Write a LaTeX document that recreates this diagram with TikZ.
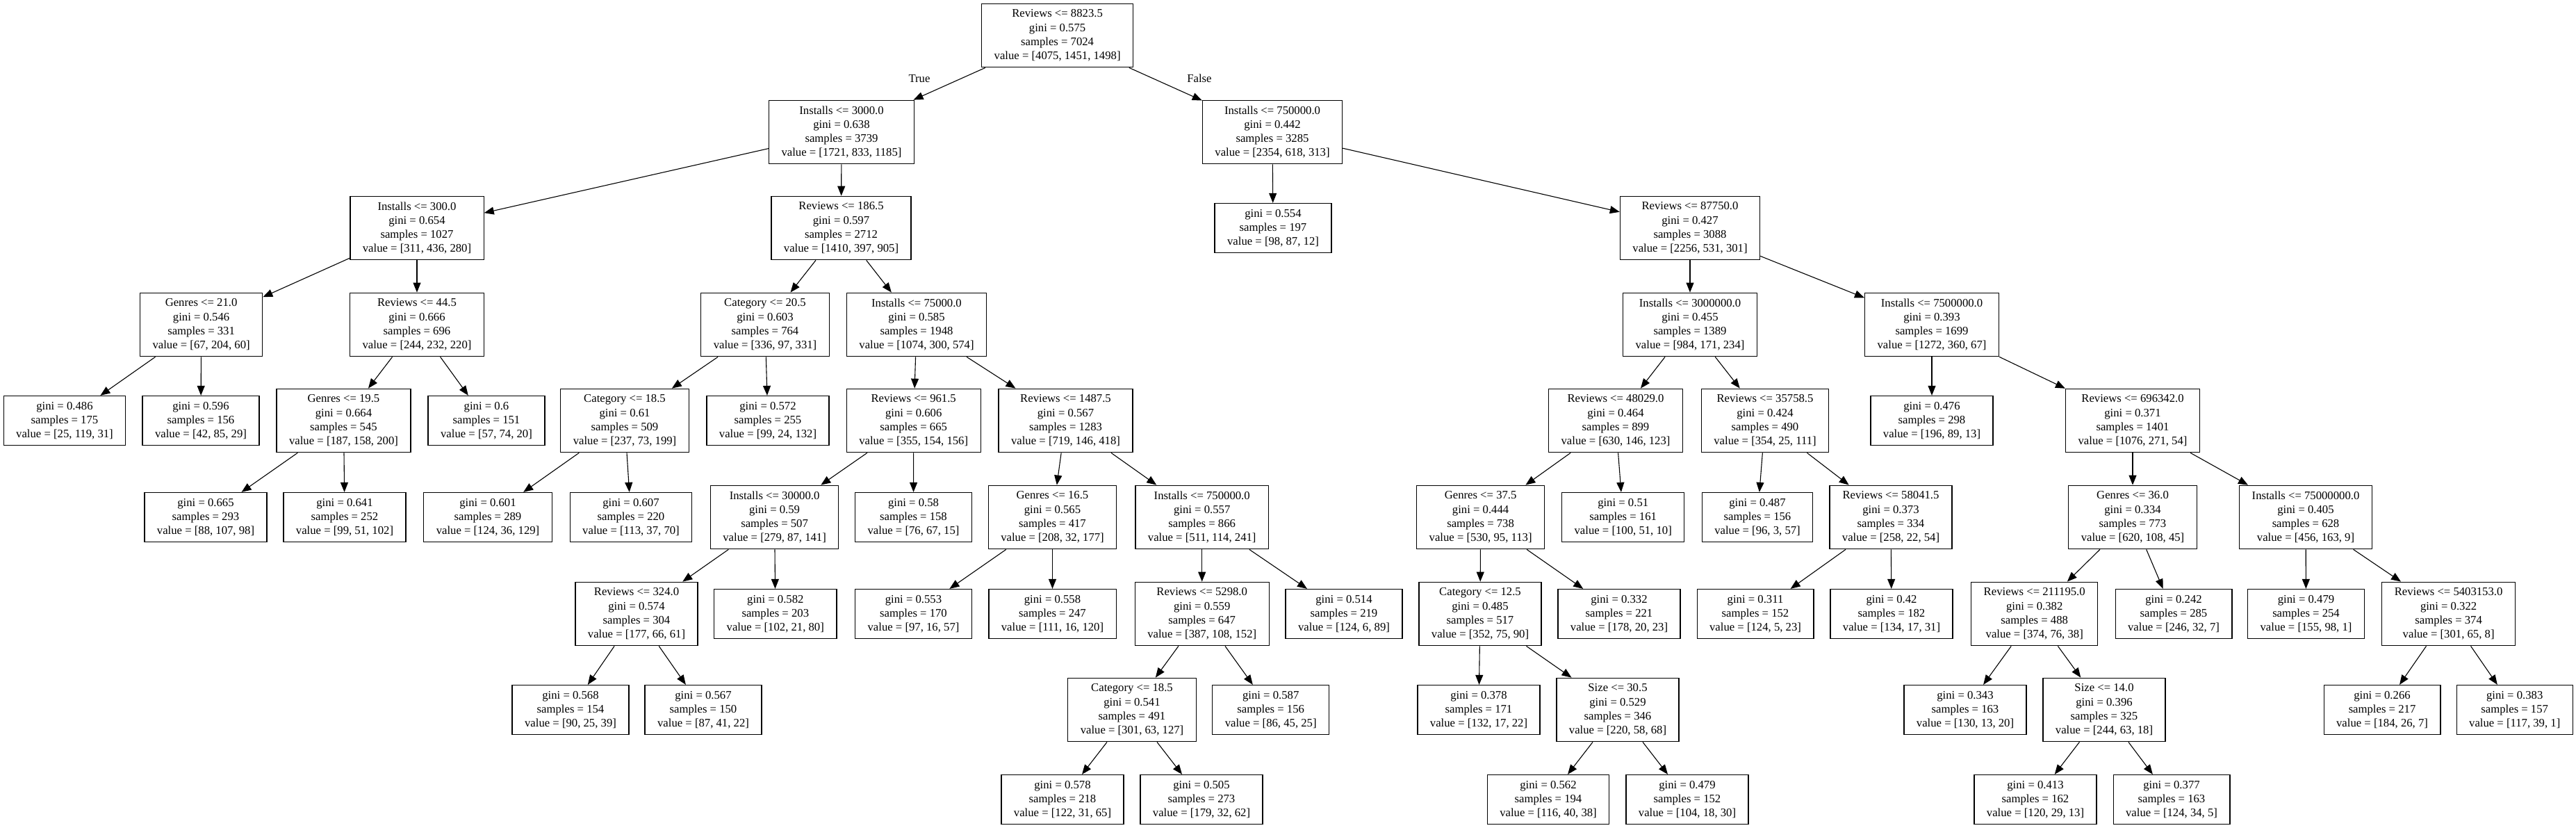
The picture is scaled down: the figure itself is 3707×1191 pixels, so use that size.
\documentclass[tikz,border=0pt]{standalone}
\usepackage{fontspec}
\setmainfont{Liberation Serif}
\usetikzlibrary{arrows.meta}
\definecolor{treeink}{HTML}{000000}
\tikzset{
  splitbox/.style={draw=treeink, line width=0.25mm, rectangle, align=center, inner xsep=3.6mm, inner ysep=0.5mm, minimum height=18.3mm},
  leafbox/.style={splitbox, minimum height=14.2mm},
  treeedge/.style={draw=treeink, line width=0.22mm, -{Triangle[length=2.8mm,width=2.2mm]}}
}

\begin{document}
\begin{tikzpicture}[x=0.2mm, y=-0.2mm, font=\fontsize{9.5}{11.5}\selectfont]
\fill[white] (0,0) rectangle (3707,1191);

\node[splitbox] (n0) at (1521.6,51) {Reviews <= 8823.5\\gini = 0.575\\samples = 7024\\value = [4075, 1451, 1498]};

\node[splitbox] (n1) at (1211,190) {Installs <= 3000.0\\gini = 0.638\\samples = 3739\\value = [1721, 833, 1185]};
\node[splitbox] (n36) at (1831,190) {Installs <= 750000.0\\gini = 0.442\\samples = 3285\\value = [2354, 618, 313]};

\node[splitbox] (n2) at (600,328) {Installs <= 300.0\\gini = 0.654\\samples = 1027\\value = [311, 436, 280]};
\node[splitbox] (n11) at (1210.5,328) {Reviews <= 186.5\\gini = 0.597\\samples = 2712\\value = [1410, 397, 905]};
\node[leafbox] (n37) at (1832,328) {gini = 0.554\\samples = 197\\value = [98, 87, 12]};
\node[splitbox] (n38) at (2432,328) {Reviews <= 87750.0\\gini = 0.427\\samples = 3088\\value = [2256, 531, 301]};

\node[splitbox] (n3) at (289.6,467) {Genres <= 21.0\\gini = 0.546\\samples = 331\\value = [67, 204, 60]};
\node[splitbox] (n6) at (600,467) {Reviews <= 44.5\\gini = 0.666\\samples = 696\\value = [244, 232, 220]};
\node[splitbox] (n12) at (1101,467) {Category <= 20.5\\gini = 0.603\\samples = 764\\value = [336, 97, 331]};
\node[splitbox] (n17) at (1319,467) {Installs <= 75000.0\\gini = 0.585\\samples = 1948\\value = [1074, 300, 574]};
\node[splitbox] (n39) at (2432,467) {Installs <= 3000000.0\\gini = 0.455\\samples = 1389\\value = [984, 171, 234]};
\node[splitbox] (n54) at (2780,467) {Installs <= 7500000.0\\gini = 0.393\\samples = 1699\\value = [1272, 360, 67]};

\node[leafbox] (n4) at (93,605) {gini = 0.486\\samples = 175\\value = [25, 119, 31]};
\node[leafbox] (n5) at (289,605) {gini = 0.596\\samples = 156\\value = [42, 85, 29]};
\node[splitbox] (n7) at (494.5,605) {Genres <= 19.5\\gini = 0.664\\samples = 545\\value = [187, 158, 200]};
\node[leafbox] (n10) at (700,605) {gini = 0.6\\samples = 151\\value = [57, 74, 20]};
\node[splitbox] (n13) at (899,605) {Category <= 18.5\\gini = 0.61\\samples = 509\\value = [237, 73, 199]};
\node[leafbox] (n16) at (1105,605) {gini = 0.572\\samples = 255\\value = [99, 24, 132]};
\node[splitbox] (n18) at (1314.7,605) {Reviews <= 961.5\\gini = 0.606\\samples = 665\\value = [355, 154, 156]};
\node[splitbox] (n25) at (1533.5,605) {Reviews <= 1487.5\\gini = 0.567\\samples = 1283\\value = [719, 146, 418]};
\node[splitbox] (n40) at (2325,605) {Reviews <= 48029.0\\gini = 0.464\\samples = 899\\value = [630, 146, 123]};
\node[splitbox] (n49) at (2540,605) {Reviews <= 35758.5\\gini = 0.424\\samples = 490\\value = [354, 25, 111]};
\node[leafbox] (n55) at (2780,605) {gini = 0.476\\samples = 298\\value = [196, 89, 13]};
\node[splitbox] (n56) at (3069,605) {Reviews <= 696342.0\\gini = 0.371\\samples = 1401\\value = [1076, 271, 54]};

\node[leafbox] (n8) at (296,744) {gini = 0.665\\samples = 293\\value = [88, 107, 98]};
\node[leafbox] (n9) at (496,744) {gini = 0.641\\samples = 252\\value = [99, 51, 102]};
\node[leafbox] (n14) at (702,744) {gini = 0.601\\samples = 289\\value = [124, 36, 129]};
\node[leafbox] (n15) at (908,744) {gini = 0.607\\samples = 220\\value = [113, 37, 70]};
\node[splitbox] (n19) at (1114.6,744) {Installs <= 30000.0\\gini = 0.59\\samples = 507\\value = [279, 87, 141]};
\node[leafbox] (n24) at (1314.5,744) {gini = 0.58\\samples = 158\\value = [76, 67, 15]};
\node[splitbox] (n26) at (1514.5,744) {Genres <= 16.5\\gini = 0.565\\samples = 417\\value = [208, 32, 177]};
\node[splitbox] (n29) at (1729.7,744) {Installs <= 750000.0\\gini = 0.557\\samples = 866\\value = [511, 114, 241]};
\node[splitbox] (n41) at (2130.6,744) {Genres <= 37.5\\gini = 0.444\\samples = 738\\value = [530, 95, 113]};
\node[leafbox] (n48) at (2335.7,744) {gini = 0.51\\samples = 161\\value = [100, 51, 10]};
\node[leafbox] (n50) at (2529,744) {gini = 0.487\\samples = 156\\value = [96, 3, 57]};
\node[splitbox] (n51) at (2721,744) {Reviews <= 58041.5\\gini = 0.373\\samples = 334\\value = [258, 22, 54]};
\node[splitbox] (n57) at (3069,744) {Genres <= 36.0\\gini = 0.334\\samples = 773\\value = [620, 108, 45]};
\node[splitbox] (n64) at (3318,744) {Installs <= 75000000.0\\gini = 0.405\\samples = 628\\value = [456, 163, 9]};

\node[splitbox] (n20) at (916,883) {Reviews <= 324.0\\gini = 0.574\\samples = 304\\value = [177, 66, 61]};
\node[leafbox] (n23) at (1115.8,883) {gini = 0.582\\samples = 203\\value = [102, 21, 80]};
\node[leafbox] (n27) at (1314.5,883) {gini = 0.553\\samples = 170\\value = [97, 16, 57]};
\node[leafbox] (n28) at (1514.5,883) {gini = 0.558\\samples = 247\\value = [111, 16, 120]};
\node[splitbox] (n30) at (1729.7,883) {Reviews <= 5298.0\\gini = 0.559\\samples = 647\\value = [387, 108, 152]};
\node[leafbox] (n35) at (1934,883) {gini = 0.514\\samples = 219\\value = [124, 6, 89]};
\node[splitbox] (n42) at (2130,883) {Category <= 12.5\\gini = 0.485\\samples = 517\\value = [352, 75, 90]};
\node[leafbox] (n47) at (2330,883) {gini = 0.332\\samples = 221\\value = [178, 20, 23]};
\node[leafbox] (n52) at (2526,883) {gini = 0.311\\samples = 152\\value = [124, 5, 23]};
\node[leafbox] (n53) at (2722,883) {gini = 0.42\\samples = 182\\value = [134, 17, 31]};
\node[splitbox] (n58) at (2927.7,883) {Reviews <= 211195.0\\gini = 0.382\\samples = 488\\value = [374, 76, 38]};
\node[leafbox] (n63) at (3128,883) {gini = 0.242\\samples = 285\\value = [246, 32, 7]};
\node[leafbox] (n65) at (3318.5,883) {gini = 0.479\\samples = 254\\value = [155, 98, 1]};
\node[splitbox] (n66) at (3523.6,883) {Reviews <= 5403153.0\\gini = 0.322\\samples = 374\\value = [301, 65, 8]};

\node[leafbox] (n21) at (821,1021) {gini = 0.568\\samples = 154\\value = [90, 25, 39]};
\node[leafbox] (n22) at (1012,1021) {gini = 0.567\\samples = 150\\value = [87, 41, 22]};
\node[splitbox] (n31) at (1629,1021) {Category <= 18.5\\gini = 0.541\\samples = 491\\value = [301, 63, 127]};
\node[leafbox] (n34) at (1828.7,1021) {gini = 0.587\\samples = 156\\value = [86, 45, 25]};
\node[leafbox] (n43) at (2128,1021) {gini = 0.378\\samples = 171\\value = [132, 17, 22]};
\node[splitbox] (n44) at (2328,1021) {Size <= 30.5\\gini = 0.529\\samples = 346\\value = [220, 58, 68]};
\node[leafbox] (n59) at (2828,1021) {gini = 0.343\\samples = 163\\value = [130, 13, 20]};
\node[splitbox] (n60) at (3028,1021) {Size <= 14.0\\gini = 0.396\\samples = 325\\value = [244, 63, 18]};
\node[leafbox] (n67) at (3428,1021) {gini = 0.266\\samples = 217\\value = [184, 26, 7]};
\node[leafbox] (n68) at (3618.7,1021) {gini = 0.383\\samples = 157\\value = [117, 39, 1]};

\node[leafbox] (n32) at (1529,1150) {gini = 0.578\\samples = 218\\value = [122, 31, 65]};
\node[leafbox] (n33) at (1729,1150) {gini = 0.505\\samples = 273\\value = [179, 32, 62]};
\node[leafbox] (n45) at (2228,1150) {gini = 0.562\\samples = 194\\value = [116, 40, 38]};
\node[leafbox] (n46) at (2428,1150) {gini = 0.479\\samples = 152\\value = [104, 18, 30]};
\node[leafbox] (n61) at (2929,1150) {gini = 0.413\\samples = 162\\value = [120, 29, 13]};
\node[leafbox] (n62) at (3125,1150) {gini = 0.377\\samples = 163\\value = [124, 34, 5]};

\draw[treeedge] (n0) -- (n1); \draw[treeedge] (n0) -- (n36);
\draw[treeedge] (n1) -- (n2); \draw[treeedge] (n1) -- (n11);
\draw[treeedge] (n2) -- (n3); \draw[treeedge] (n2) -- (n6);
\draw[treeedge] (n3) -- (n4); \draw[treeedge] (n3) -- (n5);
\draw[treeedge] (n6) -- (n7); \draw[treeedge] (n6) -- (n10);
\draw[treeedge] (n7) -- (n8); \draw[treeedge] (n7) -- (n9);
\draw[treeedge] (n11) -- (n12); \draw[treeedge] (n11) -- (n17);
\draw[treeedge] (n12) -- (n13); \draw[treeedge] (n12) -- (n16);
\draw[treeedge] (n13) -- (n14); \draw[treeedge] (n13) -- (n15);
\draw[treeedge] (n17) -- (n18); \draw[treeedge] (n17) -- (n25);
\draw[treeedge] (n18) -- (n19); \draw[treeedge] (n18) -- (n24);
\draw[treeedge] (n19) -- (n20); \draw[treeedge] (n19) -- (n23);
\draw[treeedge] (n20) -- (n21); \draw[treeedge] (n20) -- (n22);
\draw[treeedge] (n25) -- (n26); \draw[treeedge] (n25) -- (n29);
\draw[treeedge] (n26) -- (n27); \draw[treeedge] (n26) -- (n28);
\draw[treeedge] (n29) -- (n30); \draw[treeedge] (n29) -- (n35);
\draw[treeedge] (n30) -- (n31); \draw[treeedge] (n30) -- (n34);
\draw[treeedge] (n31) -- (n32); \draw[treeedge] (n31) -- (n33);
\draw[treeedge] (n36) -- (n37); \draw[treeedge] (n36) -- (n38);
\draw[treeedge] (n38) -- (n39); \draw[treeedge] (n38) -- (n54);
\draw[treeedge] (n39) -- (n40); \draw[treeedge] (n39) -- (n49);
\draw[treeedge] (n40) -- (n41); \draw[treeedge] (n40) -- (n48);
\draw[treeedge] (n41) -- (n42); \draw[treeedge] (n41) -- (n47);
\draw[treeedge] (n42) -- (n43); \draw[treeedge] (n42) -- (n44);
\draw[treeedge] (n44) -- (n45); \draw[treeedge] (n44) -- (n46);
\draw[treeedge] (n49) -- (n50); \draw[treeedge] (n49) -- (n51);
\draw[treeedge] (n51) -- (n52); \draw[treeedge] (n51) -- (n53);
\draw[treeedge] (n54) -- (n55); \draw[treeedge] (n54) -- (n56);
\draw[treeedge] (n56) -- (n57); \draw[treeedge] (n56) -- (n64);
\draw[treeedge] (n57) -- (n58); \draw[treeedge] (n57) -- (n63);
\draw[treeedge] (n58) -- (n59); \draw[treeedge] (n58) -- (n60);
\draw[treeedge] (n60) -- (n61); \draw[treeedge] (n60) -- (n62);
\draw[treeedge] (n64) -- (n65); \draw[treeedge] (n64) -- (n66);
\draw[treeedge] (n66) -- (n67); \draw[treeedge] (n66) -- (n68);

\node (truelbl) at (1323,113) {True};
\node (falselbl) at (1726,113) {False};
\end{tikzpicture}
\end{document}
